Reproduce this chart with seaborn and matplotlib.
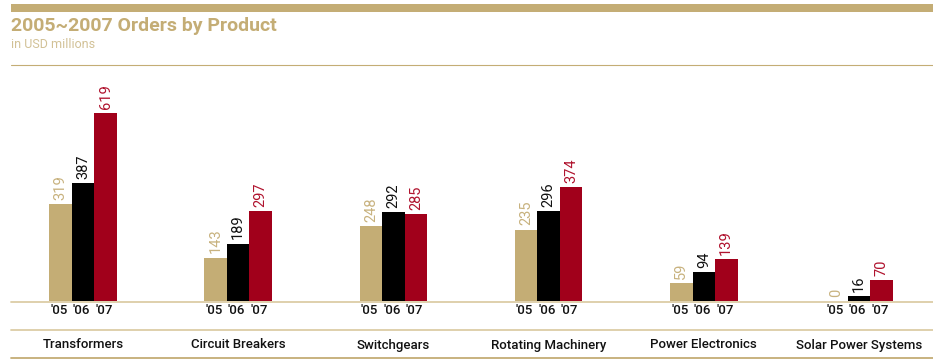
import matplotlib
matplotlib.use("Agg")
import matplotlib.pyplot as plt
import matplotlib.transforms as mtransforms
from matplotlib.lines import Line2D
from matplotlib.patches import Rectangle
import seaborn as sns
import pandas as pd

# Orders by product line, in USD millions
products = ["Transformers", "Circuit Breakers", "Switchgears",
            "Rotating Machinery", "Power Electronics", "Solar Power Systems"]
years = ["'05", "'06", "'07"]
orders_05 = [319, 143, 248, 235, 59, 0]
orders_06 = [387, 189, 292, 296, 94, 16]
orders_07 = [619, 297, 285, 374, 139, 70]

bar_colors = ["#C4AD75", "#000000", "#A1001B"]
label_colors = ["#C8B27E", "#111111", "#B0132E"]
gold = "#C4AD75"
gold_light = "#DCCDA6"

rows = []
for yr, vals in zip(years, [orders_05, orders_06, orders_07]):
    for p, v in zip(products, vals):
        rows.append({"product": p, "year": yr, "orders": v})
df = pd.DataFrame(rows)

sns.set_theme(style="white")
plt.rcParams["font.family"] = ["Roboto", "DejaVu Sans"]

W, H = 933, 359
fig = plt.figure(figsize=(W / 100, H / 100), dpi=100)

# axes spans from the baseline (y=301px) up to the rule under the subtitle (y=65px)
left, right = 11, 933
bottom_px, top_px = 301, 65
ax = fig.add_axes([left / W, 1 - bottom_px / H, (right - left) / W, (bottom_px - top_px) / H])

sns.barplot(data=df, x="product", y="orders", hue="year", order=products,
            hue_order=years, palette=bar_colors, width=0.435, gap=0,
            saturation=1, legend=False, linewidth=0, edgecolor="none", ax=ax)

# x range: first group centre at 83px, spacing ~155.2px
sp = 155.2
ax.set_xlim((left - 83) / sp, (right - 83) / sp)
ax.set_ylim(0, 777)
ax.set_xticks([])
ax.set_yticks([])
ax.set_xlabel("")
ax.set_ylabel("")
for s in ax.spines.values():
    s.set_visible(False)

# value labels above each bar, rotated
for cont, col in zip(ax.containers, label_colors):
    ax.bar_label(cont, labels=[f"{int(b.get_height())}" for b in cont],
                 rotation=90, padding=3, color=col, fontsize=10.5)

# year labels under each bar
trans = mtransforms.blended_transform_factory(ax.transData, fig.transFigure)
for cont, yr in zip(ax.containers, years):
    for b in cont:
        ax.text(b.get_x() + b.get_width() / 2 - 0.01, 1 - 311 / H, yr,
                transform=trans, ha="center", va="center",
                fontsize=9.5, fontweight="medium", color="#111111")

# product names
for i, p in enumerate(products):
    ax.text(i, 1 - 345 / H, p, transform=trans, ha="center", va="center",
            fontsize=9.5, fontweight="medium", color="#111111")

# header band and rules
fig.add_artist(Rectangle((left / W, 1 - 12 / H), (right - left) / W, 8 / H,
                         transform=fig.transFigure, color=gold, lw=0))
fig.add_artist(Line2D([left / W, 1], [1 - 65 / H] * 2, color=gold, lw=0.8))
fig.add_artist(Line2D([left / W, 1], [1 - 301.5 / H] * 2, color=gold_light, lw=1.3))
fig.add_artist(Line2D([left / W, 1], [1 - 330 / H] * 2, color=gold_light, lw=1.3))
fig.add_artist(Line2D([left / W, 1], [1 - 358 / H] * 2, color=gold, lw=1.3))

fig.text(left / W, 1 - 26 / H, "2005~2007 Orders by Product", ha="left", va="center",
         fontsize=14, fontweight="bold", color=gold)
fig.text(left / W, 1 - 45 / H, "in USD millions", ha="left", va="center",
         fontsize=9, color="#D2C196")

fig.savefig("out.png", dpi=100)
